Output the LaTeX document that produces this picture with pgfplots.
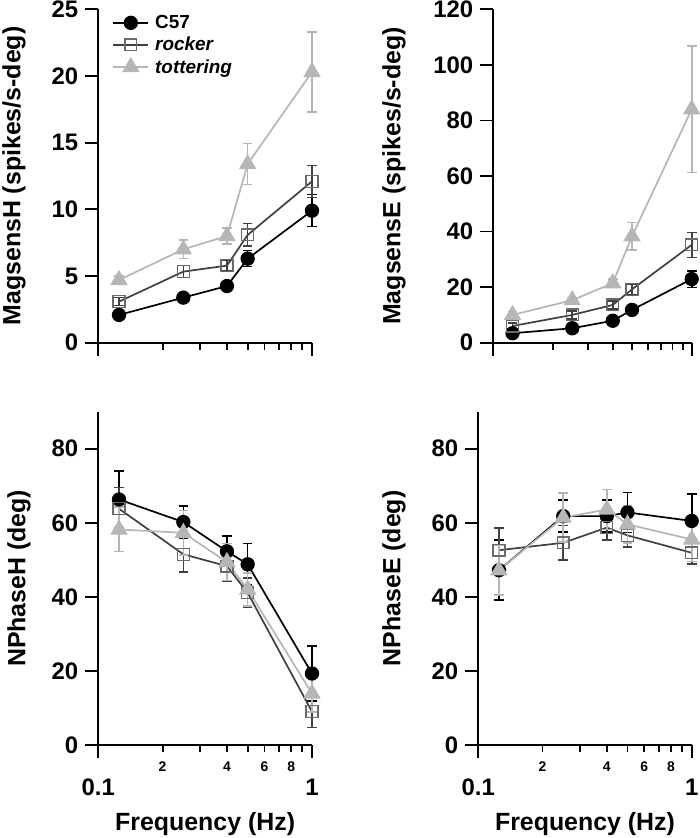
\documentclass[border=0pt]{standalone}
\usepackage{pgfplots}
\pgfplotsset{compat=1.18}
\usepackage{pgfplotstable}
\usepackage{fontspec}
\setmainfont{Liberation Sans}
\newcommand\tickfont{\bfseries\fontsize{24}{24}\selectfont}
\newcommand\smallfont{\bfseries\fontsize{14}{14}\selectfont}
\newcommand\labfont{\bfseries\fontsize{25}{25}\selectfont}
\newcommand\legfont{\bfseries\fontsize{19}{19}\selectfont}
\definecolor{rock}{HTML}{404040}
\definecolor{rockm}{HTML}{6A6A6A}
\definecolor{tott}{HTML}{B6B6B6}

% MagsensH
\pgfplotstableread{
x y e
0.125 2.08 0.2
0.25 3.38 0.2
0.4 4.25 0.2
0.5 6.3 0.6
1 9.9 1.2
}\hCfs
\pgfplotstableread{
x y e
0.125 3.08 0.3
0.25 5.33 0.45
0.4 5.78 0.4
0.5 8.08 0.85
1 12.1 1.2
}\hRoc
\pgfplotstableread{
x y e
0.125 4.7 0.3
0.25 7.0 0.7
0.4 8.0 0.6
0.5 13.4 1.55
1 20.3 3.0
}\hTot
% MagsensE
\pgfplotstableread{
x y e
0.125 3.4 0.8
0.25 5.2 0.8
0.4 7.9 1.0
0.5 11.8 1.2
1 22.9 3.0
}\eCfs
\pgfplotstableread{
x y e
0.125 6.0 1.0
0.25 10.0 1.5
0.4 13.6 1.5
0.5 19.2 2.0
1 35.2 4.5
}\eRoc
\pgfplotstableread{
x y e
0.125 10.0 1.0
0.25 15.3 1.0
0.4 21.4 1.5
0.5 38.3 4.9
1 84.0 22.7
}\eTot
% NPhaseH
\pgfplotstableread{
x y e
0.125 66.3 7.7
0.25 60.2 4.3
0.4 52.3 4.1
0.5 48.8 5.6
1 19.3 7.4
}\phCfs
\pgfplotstableread{
x y e
0.125 63.8 5.7
0.25 51.5 4.8
0.4 48.3 4.0
0.5 41.1 4.0
1 9.0 4.3
}\phRoc
\pgfplotstableread{
x y e
0.125 58.2 6.0
0.25 57.3 6.0
0.4 49.4 5.0
0.5 42.0 4.5
1 13.9 5.0
}\phTot
% NPhaseE
\pgfplotstableread{
x y e
0.125 47.2 8.1
0.25 61.8 4.3
0.4 61.8 4.3
0.5 62.8 5.4
1 60.5 7.2
}\peCfs
\pgfplotstableread{
x y e
0.125 52.6 6.0
0.25 54.6 4.7
0.4 58.7 3.4
0.5 56.6 3.1
1 51.9 3.0
}\peRoc
\pgfplotstableread{
x y e
0.125 47.2 6.7
0.25 61.4 6.6
0.4 63.6 5.4
0.5 59.6 5.0
1 55.5 6.0
}\peTot

\pgfplotsset{
  every axis/.append style={
    scale only axis, clip=false,
    axis lines=left, axis line style={line width=1.8bp, -},
    xmode=log, xmin=0.1, xmax=1, ymin=0,
    tick align=outside,
    major tick length=13bp, minor tick length=7bp,
    every tick/.style={black, line width=1.8bp},
    xtick={0.1,1},
    minor xtick={0.2,0.3,0.4,0.5,0.6,0.7,0.8,0.9},
    extra x ticks={0.2,0.4,0.6,0.8},
    extra x tick style={major tick length=7bp,
      xticklabel style={font=\smallfont, anchor=base, yshift=17bp}},
    tick label style={font=\tickfont},
    xticklabel style={anchor=base, yshift=-37bp},
    yticklabel style={anchor=east, inner sep=0pt, xshift=-7bp},
    ylabel style={font=\labfont, at={(axis description cs:0,0.5)}, anchor=base, inner sep=0pt},
    xlabel style={font=\labfont, at={(axis description cs:0.5,0)}, anchor=base, inner sep=0pt, yshift=-85bp},
  },
  myleg/.style={legend image code/.code={\draw[mark repeat=2,mark phase=2,##1] plot coordinates {(0bp,0bp) (17.5bp,0bp) (35bp,0bp)};}},
  ebar/.style={error bars/.cd, y dir=both, y explicit,
    error bar style={line width=1.6bp, solid},
    error mark=-,
    error mark options={rotate=90, solid, line width=1.6bp, mark size=4.8bp}},
  sCfs/.style={myleg, black, line width=1.7bp, mark=*, mark size=6.3bp, mark options={solid, fill=black}, ebar},
  sRoc/.style={myleg, rock, line width=1.7bp, mark=square, mark size=5.9bp, mark options={solid, draw=rockm, line width=1.3bp}, ebar},
  sTot/.style={myleg, tott, line width=1.7bp, mark=triangle*, mark size=8.4bp, mark options={solid, fill=tott}, ebar},
}
\pgfplotsset{/pgf/number format/assume math mode=true}

\begin{document}
\begin{tikzpicture}
\useasboundingbox (0,0) rectangle (700bp,838bp);

% Top-left
\begin{axis}[at={(98.3bp,495.3bp)}, anchor=south west, width=213.7bp, height=333.4bp,
  ymax=25, ytick={0,5,10,15,20,25}, xticklabels={,}, extra x tick labels={,,,},
  ylabel={MagsensH (spikes/s-deg)}, ylabel style={yshift=78bp},
  legend style={at={(axis description cs:0,1)}, anchor=north west, xshift=11bp, yshift=-2bp,
    draw=none, fill=none, font=\legfont, cells={anchor=west}, row sep=3bp,
    /tikz/every odd column/.append style={column sep=4bp}}]
\addplot[sCfs] table[x=x,y=y,y error=e] {\hCfs};
\addlegendentry{C57}
\addplot[sRoc] table[x=x,y=y,y error=e] {\hRoc};
\addlegendentry{\textit{rocker}}
\addplot[sTot] table[x=x,y=y,y error=e] {\hTot};
\addlegendentry{\textit{tottering}}
\end{axis}

% Top-right
\begin{axis}[at={(493.3bp,495.3bp)}, anchor=south west, width=198.4bp, height=333.4bp,
  ymax=120, ytick={0,20,40,60,80,100,120}, xticklabels={,}, extra x tick labels={,,,},
  ylabel={MagsensE (spikes/s-deg)}, ylabel style={yshift=93bp}]
\addplot[sCfs] table[x=x,y=y,y error=e] {\eCfs};
\addplot[sRoc] table[x=x,y=y,y error=e] {\eRoc};
\addplot[sTot] table[x=x,y=y,y error=e] {\eTot};
\end{axis}

% Bottom-left
\begin{axis}[at={(98.3bp,93bp)}, anchor=south west, width=213.7bp, height=333.3bp,
  ymax=90, ytick={0,20,40,60,80}, xticklabels={0.1,1}, extra x tick labels={2,4,6,8},
  ylabel={NPhaseH (deg)}, ylabel style={yshift=73bp}, xlabel={Frequency (Hz)}]
\addplot[sCfs] table[x=x,y=y,y error=e] {\phCfs};
\addplot[sRoc] table[x=x,y=y,y error=e] {\phRoc};
\addplot[sTot] table[x=x,y=y,y error=e] {\phTot};
\end{axis}

% Bottom-right
\begin{axis}[at={(478.3bp,93bp)}, anchor=south west, width=213.4bp, height=333.3bp,
  ymax=90, ytick={0,20,40,60,80}, xticklabels={0.1,1}, extra x tick labels={2,4,6,8},
  ylabel={NPhaseE (deg)}, ylabel style={yshift=78bp}, xlabel={Frequency (Hz)}]
\addplot[sCfs] table[x=x,y=y,y error=e] {\peCfs};
\addplot[sRoc] table[x=x,y=y,y error=e] {\peRoc};
\addplot[sTot] table[x=x,y=y,y error=e] {\peTot};
\end{axis}
\end{tikzpicture}
\end{document}
